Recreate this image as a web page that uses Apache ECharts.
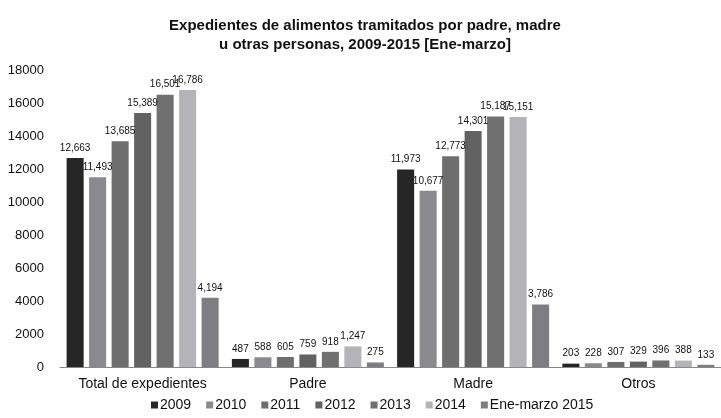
<!DOCTYPE html>
<html>
<head>
<meta charset="utf-8">
<script src="https://cdn.jsdelivr.net/npm/echarts@6/dist/echarts.min.js"></script>
<style>html,body{margin:0;padding:0;background:#fff;}#c{width:721px;height:418px;}</style>
</head>
<body>
<div id="c"></div>
<script>
const categories = ['Total de expedientes', 'Padre', 'Madre', 'Otros'];
const seriesNames = ['2009', '2010', '2011', '2012', '2013', '2014', 'Ene-marzo 2015'];
const v2009 = [12663, 487, 11973, 203];
const v2010 = [11493, 588, 10677, 228];
const v2011 = [13685, 605, 12773, 307];
const v2012 = [15389, 759, 14301, 329];
const v2013 = [16501, 918, 15187, 396];
const v2014 = [16786, 1247, 15151, 388];
const v2015 = [4194, 275, 3786, 133];
const yTicks = [0, 2000, 4000, 6000, 8000, 10000, 12000, 14000, 16000, 18000];

const allValues = [v2009, v2010, v2011, v2012, v2013, v2014, v2015];
const colors = ['#262626', '#8a8a8e', '#6e6e6e', '#626262', '#707070', '#b4b4b8', '#7e7e82'];
const font = '"Liberation Sans", Arial, sans-serif';

const chart = echarts.init(document.getElementById('c'));
chart.setOption({
  animation: false,
  textStyle: { fontFamily: font },
  title: {
    text: 'Expedientes de alimentos tramitados por padre, madre\nu otras personas, 2009-2015 [Ene-marzo]',
    left: 360, top: 11, textAlign: 'center',
    textStyle: { fontSize: 15, fontWeight: 'bold', color: '#111', lineHeight: 19, fontFamily: font }
  },
  legend: {
    bottom: 1, left: 146,
    itemWidth: 7, itemHeight: 7, itemGap: 15,
    icon: 'rect',
    textStyle: { fontSize: 14, color: '#111', padding: [0, 0, 0, -3] },
    data: seriesNames
  },
  grid: { left: 60, right: -7, top: 70, bottom: 51, containLabel: false },
  xAxis: {
    type: 'category', data: categories,
    axisLine: { lineStyle: { color: '#888' } },
    axisTick: { show: false },
    axisLabel: { fontSize: 14, color: '#111', margin: 10, interval: 0, hideOverlap: false }
  },
  yAxis: {
    type: 'value', min: yTicks[0], max: yTicks[yTicks.length - 1], interval: 2000,
    splitLine: { show: false },
    axisLine: { show: false }, axisTick: { show: false },
    axisLabel: { fontSize: 13, color: '#111', margin: 16, formatter: v => String(v) }
  },
  series: seriesNames.map((n, i) => ({
    name: n, type: 'bar', data: allValues[i],
    itemStyle: { color: colors[i] },
    barGap: '32%', barCategoryGap: '8%',
    label: {
      show: true, position: 'top', fontSize: 10, color: '#111', distance: 5,
      formatter: p => p.value.toLocaleString('en-US')
    }
  }))
});
</script>
</body>
</html>
